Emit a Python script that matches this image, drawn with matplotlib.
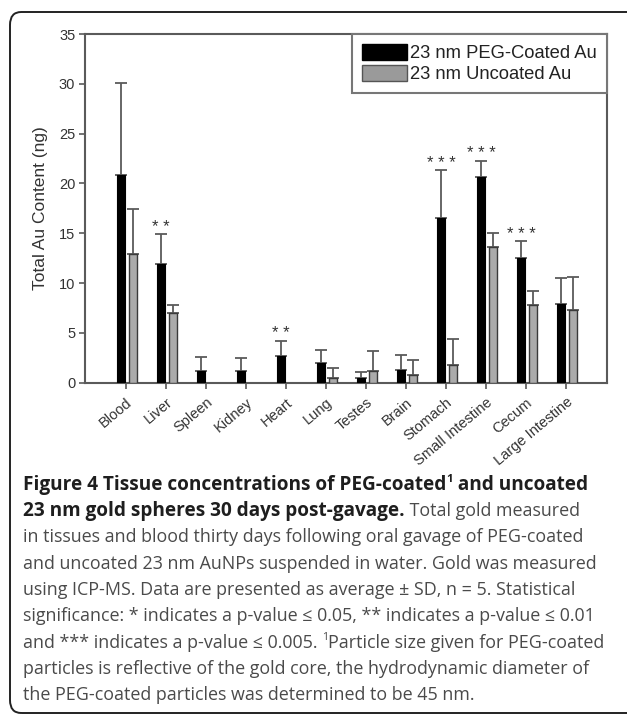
import numpy as np
import matplotlib
matplotlib.use("Agg")
import matplotlib.pyplot as plt
from matplotlib.patches import Patch, FancyBboxPatch

W, H = 627, 716

tissues = ["Blood", "Liver", "Spleen", "Kidney", "Heart", "Lung", "Testes", "Brain",
           "Stomach", "Small Intestine", "Cecum", "Large Intestine"]
peg_mean = [20.8, 11.9, 1.2, 1.15, 2.7, 1.95, 0.45, 1.27, 16.5, 20.6, 12.5, 7.9]
peg_sd = [9.3, 3.0, 1.4, 1.35, 1.5, 1.35, 0.62, 1.53, 4.8, 1.7, 1.7, 2.6]
unc_mean = [12.9, 7.0, np.nan, np.nan, np.nan, 0.5, 1.15, 0.77, 1.74, 13.6, 7.76, 7.3]
unc_sd = [4.5, 0.8, np.nan, np.nan, np.nan, 1.0, 2.05, 1.48, 2.6, 1.4, 1.41, 3.3]
stars = ["", "**", "", "", "**", "", "", "", "***", "***", "***", ""]
series = ["23 nm PEG-Coated Au", "23 nm Uncoated Au"]
yticks = [0, 5, 10, 15, 20, 25, 30, 35]

axis_col = "#5a5a5a"
text_col = "#333333"

fig = plt.figure(figsize = (W / 100, H / 100), dpi = 100)

# outer rounded frame (right side runs off the picture)
frame = FancyBboxPatch((10 / W, 1 - 713 / H), 640 / W, 701 / H,
                       boxstyle = "round,pad=0,rounding_size=0.018",
                       transform = fig.transFigure, fill = False,
                       edgecolor = "#222222", linewidth = 1.4)
fig.add_artist(frame)

ax = fig.add_axes([85 / W, 1 - 382.7 / H, (607 - 85) / W, (382.7 - 34) / H])

x = np.arange(len(tissues))
off_peg, off_unc = -0.1275, 0.165

ax.bar(x + off_peg, peg_mean, width = 0.22, color = "black", edgecolor = "black", linewidth = 0.8, zorder = 3)
ax.bar(x + off_unc, unc_mean, width = 0.2, color = "#ababab", edgecolor = "#3a3a3a", linewidth = 1.0, zorder = 3)

zeros = np.zeros(len(x))
ax.errorbar(x + off_peg, peg_mean, yerr = [zeros, peg_sd], fmt = "none", ecolor = axis_col,
            elinewidth = 1.3, capsize = 4, capthick = 1.3, zorder = 2)
ax.errorbar(x + off_unc, unc_mean, yerr = [zeros, unc_sd], fmt = "none", ecolor = axis_col,
            elinewidth = 1.3, capsize = 4, capthick = 1.3, zorder = 2)

for i, s in enumerate(stars):
  if s:
    ax.text(x[i] + off_peg, peg_mean[i] + peg_sd[i] + 0.7, " ".join(s), ha = "center", va = "center",
            fontsize = 12, color = text_col, family = "Liberation Sans")

ax.set_xlim(-1.025, 12.025)
ax.set_ylim(0, 35)
ax.set_yticks(yticks)
ax.set_xticks(x)
ax.set_xticklabels(tissues, rotation = 40, ha = "right", va = "top", rotation_mode = "anchor",
                   fontsize = 10.5, color = text_col, family = "Liberation Sans")
for lbl in ax.get_yticklabels():
  lbl.set_fontsize(10.5)
  lbl.set_color(text_col)
  lbl.set_family("Liberation Sans")
ax.tick_params(direction = "out", length = 4, width = 1.2, color = axis_col, pad = 3)
ax.tick_params(axis = "x", pad = 5)
for sp in ax.spines.values():
  sp.set_color(axis_col)
  sp.set_linewidth(1.5)

ax.set_ylabel("Total Au Content (ng)", fontsize = 12.5, color = text_col, family = "Liberation Sans", labelpad = 8)

handles = [Patch(facecolor = "black", edgecolor = "black"),
           Patch(facecolor = "#9a9a9a", edgecolor = "#555555")]
leg = ax.legend(handles, series, loc = "upper right", borderaxespad = 0,
                handlelength = 2.5, handleheight = 0.95, handletextpad = 0.15, labelspacing = 0.15,
                borderpad = 0.55, fancybox = False, framealpha = 1,
                prop = {"family": "Liberation Sans", "size": 13.2})
leg.get_frame().set_edgecolor("#777777")
leg.get_frame().set_linewidth(1.5)
for t in leg.get_texts():
  t.set_color("#222222")

# caption, laid out line by line
fig.canvas.draw()
renderer = fig.canvas.get_renderer()
cap_fam = ["Open Sans", "DejaVu Sans"]
bold_size = 13.7
norm_size = 12.85

def line(parts, y, x0 = 23):
  xp = x0
  for text, bold, sup in parts:
    size = (bold_size if bold else norm_size) * (0.6 if sup else 1)
    rise = 8 if sup else 0
    t = fig.text(xp / W, 1 - (y - rise) / H, text, fontsize = size, family = cap_fam,
                 fontweight = "bold" if bold else "normal",
                 color = "#1e1e1e" if bold else "#4a4a4a", va = "baseline", ha = "left")
    xp += t.get_window_extent(renderer).width

caption = [
  [("Figure 4 Tissue concentrations of PEG-coated", True, False), ("1", True, True), (" and uncoated", True, False)],
  [("23 nm gold spheres 30 days post-gavage.", True, False), (" Total gold measured", False, False)],
  [("in tissues and blood thirty days following oral gavage of PEG-coated", False, False)],
  [("and uncoated 23 nm AuNPs suspended in water. Gold was measured", False, False)],
  [("using ICP-MS. Data are presented as average \u00b1 SD, n = 5. Statistical", False, False)],
  [("significance: * indicates a p-value \u2264 0.05, ** indicates a p-value \u2264 0.01", False, False)],
  [("and *** indicates a p-value \u2264 0.005. ", False, False), ("1", False, True), ("Particle size given for PEG-coated", False, False)],
  [("particles is reflective of the gold core, the hydrodynamic diameter of", False, False)],
  [("the PEG-coated particles was determined to be 45 nm.", False, False)],
]

for k, parts in enumerate(caption):
  line(parts, 490 + 26.25 * k)

fig.savefig("out.png", dpi = 100)
